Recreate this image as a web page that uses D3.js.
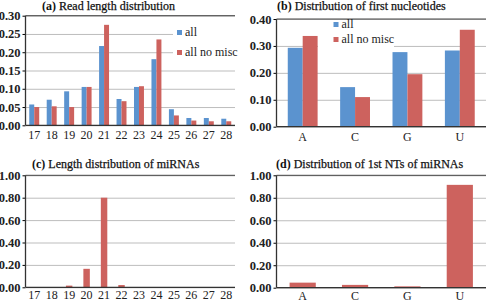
<!DOCTYPE html>
<html>
<head>
<meta charset="utf-8">
<script src="https://cdn.jsdelivr.net/npm/d3@7"></script>
<style>
  body { margin: 0; background: #fff; }
  svg { display: block; }
</style>
</head>
<body>
<script>
let width = 488, height = 302;

// data
let lengths = ['17', '18', '19', '20', '21', '22', '23', '24', '25', '26', '27', '28']
let readAll = [0.057, 0.070, 0.093, 0.105, 0.217, 0.072, 0.105, 0.181, 0.044, 0.020, 0.020, 0.018]
let readNoMisc = [0.050, 0.052, 0.050, 0.105, 0.275, 0.066, 0.107, 0.235, 0.027, 0.013, 0.011, 0.011]
let nucleotides = ['A', 'C', 'G', 'U']
let firstAll = [0.293, 0.147, 0.277, 0.283]
let firstNoMisc = [0.337, 0.110, 0.195, 0.360]
let mirnaLength = [0, 0, 0.015, 0.165, 0.800, 0.020, 0, 0, 0, 0, 0, 0]
let mirnaFirst = [0.045, 0.025, 0.012, 0.915]
let seriesNames = ['all', 'all no misc']
let ticksA = [0, 0.05, 0.10, 0.15, 0.20, 0.25, 0.30]
let ticksB = [0, 0.10, 0.20, 0.30, 0.40]
let ticksCD = [0, 0.20, 0.40, 0.60, 0.80, 1.00]

let blue = '#5b93cf', red = '#cd625e'
let font = '"Liberation Serif", "DejaVu Serif", serif'

let svg = d3.select('body').append('svg')
    .attr('width', width).attr('height', height)
    .style('font-family', font)

function panel(opt) {
    let g = svg.append('g')
    let x = d3.scaleBand()
        .domain(opt.cats)
        .range([opt.left, opt.right])
        .paddingInner(opt.pad).paddingOuter(opt.pad / 2)
    let y = d3.scaleLinear()
        .domain([0, opt.ticks[opt.ticks.length - 1]])
        .range([opt.bottom, opt.top])

    // grid lines + y labels
    g.append('g')
        .attr('transform', `translate(${opt.left}, 0)`)
        .call(d3.axisLeft(y).tickValues(opt.ticks).tickFormat(d3.format('.2f')).tickSize(3).tickPadding(2))
        .call(a => a.select('.domain').remove())
        .call(a => a.selectAll('.tick line').clone()
            .attr('x2', opt.right - opt.left)
            .attr('stroke', '#bdbdbd'))
        .call(a => a.selectAll('.tick text')
            .attr('font-family', font).attr('font-size', 12.5)
            .attr('font-weight', 'bold').attr('fill', '#222'))

    // legend box (white background hides grid)
    if (opt.legend) {
        let lg = opt.legend
        g.append('rect')
            .attr('x', lg.x0).attr('y', lg.y0)
            .attr('width', lg.x1 - lg.x0).attr('height', lg.y1 - lg.y0)
            .attr('fill', '#fff')
    }

    // bars
    let inner = d3.scaleBand()
        .domain(d3.range(opt.series.length))
        .range([0, x.bandwidth()])
    opt.series.forEach((s, i) => {
        g.append('g').selectAll('rect')
            .data(s.values)
            .join('rect')
            .attr('x', (d, j) => x(opt.cats[j]) + inner(i))
            .attr('width', inner.bandwidth())
            .attr('y', d => y(d))
            .attr('height', d => y(0) - y(d))
            .attr('fill', s.color)
    })

    // frame: top line, left and bottom axes
    let yTop = y(opt.ticks[opt.ticks.length - 1])
    g.append('line')
        .attr('x1', opt.left).attr('x2', opt.right)
        .attr('y1', yTop).attr('y2', yTop)
        .attr('stroke', '#444')
    g.append('g')
        .attr('transform', `translate(0, ${opt.bottom})`)
        .call(d3.axisBottom(x).tickSize(0).tickPadding(opt.xPad))
        .call(a => a.select('.domain').attr('stroke', '#333').attr('stroke-width', 1.3)
            .attr('d', `M${opt.left},0H${opt.right}`))
        .call(a => a.selectAll('.tick text')
            .attr('font-family', font).attr('font-size', 12).attr('fill', '#222'))
    g.append('line')
        .attr('x1', opt.left).attr('x2', opt.left)
        .attr('y1', opt.top).attr('y2', opt.bottom)
        .attr('stroke', '#333').attr('stroke-width', 1.3)

    // title: bold tag, medium-weight text
    let t = g.append('text')
        .attr('x', opt.titleX).attr('y', opt.titleY)
        .attr('font-size', 12).attr('fill', '#111')
    t.append('tspan').attr('font-weight', 'bold').text(opt.tag + ' ')
    t.append('tspan').attr('stroke', '#111').attr('stroke-width', 0.25).text(opt.title)

    // legend entries
    if (opt.legend) {
        let lg = opt.legend
        opt.series.forEach((s, i) => {
            g.append('rect')
                .attr('x', lg.sx).attr('y', lg.sy + i * lg.gap)
                .attr('width', 5).attr('height', 5)
                .attr('fill', s.color)
            g.append('text')
                .attr('x', lg.sx + 8).attr('y', lg.sy + 6 + i * lg.gap)
                .attr('font-size', 12).attr('fill', '#222')
                .text(seriesNames[i])
        })
    }
}

panel({
    cats: lengths, ticks: ticksA, pad: 0.43, xPad: 5.5,
    left: 25.5, right: 235, top: 15.7, bottom: 125.3,
    series: [{ values: readAll, color: blue }, { values: readNoMisc, color: red }],
    tag: '(a)', title: 'Read length distribution', titleX: 42, titleY: 9.5,
    legend: { x0: 173, x1: 236, y0: 25, y1: 60, sx: 177, sy: 30, gap: 20 }
})
panel({
    cats: nucleotides, ticks: ticksB, pad: 0.43, xPad: 5.5,
    left: 276.5, right: 486, top: 19, bottom: 126.7,
    series: [{ values: firstAll, color: blue }, { values: firstNoMisc, color: red }],
    tag: '(b)', title: 'Distribution of first nucleotides', titleX: 277, titleY: 10,
    legend: { x0: 318, x1: 394, y0: 20, y1: 47, sx: 333.5, sy: 22, gap: 15 }
})
panel({
    cats: lengths, ticks: ticksCD, pad: 0.63, xPad: 3.5,
    left: 25.5, right: 235, top: 175.3, bottom: 287.3,
    series: [{ values: mirnaLength, color: red }],
    tag: '(c)', title: 'Length distribution of miRNAs', titleX: 32, titleY: 167.5
})
panel({
    cats: nucleotides, ticks: ticksCD, pad: 0.5, xPad: 3.5,
    left: 276.5, right: 486, top: 175.3, bottom: 287.7,
    series: [{ values: mirnaFirst, color: red }],
    tag: '(d)', title: 'Distribution of 1st NTs of miRNAs', titleX: 276, titleY: 167.5
})
</script>
</body>
</html>
